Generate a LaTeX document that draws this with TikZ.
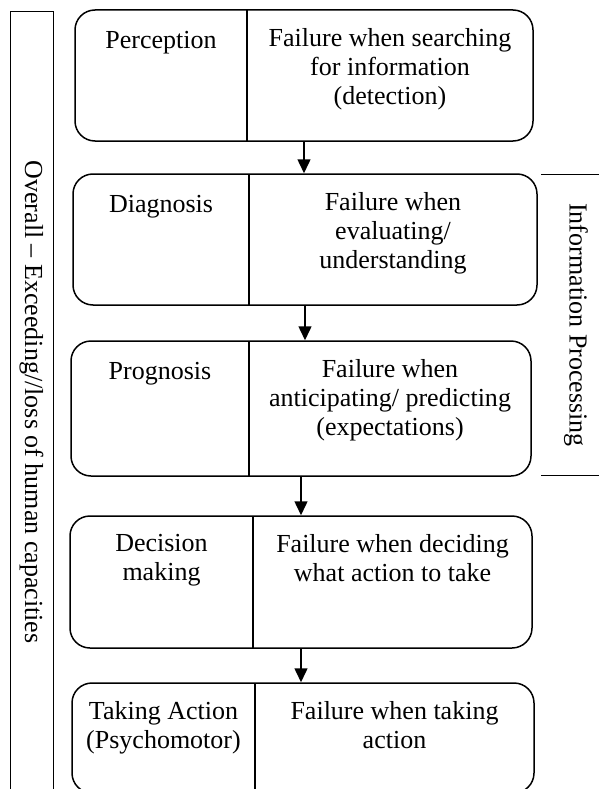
\documentclass[tikz,border=0pt]{standalone}
\usepackage{fontspec}
\setmainfont{Liberation Serif}
\usetikzlibrary{arrows.meta}

\begin{document}
\begin{tikzpicture}[x=1pt, y=-1pt,
  stage/.style={draw, line width=1.5pt, rounded corners=20pt, inner sep=0pt},
  divider/.style={line width=1.5pt},
  stagetext/.style={anchor=north, inner sep=0pt, align=center, font={\fontsize{26}{29}\selectfont}, execute at begin node=\strut},
  side/.style={inner sep=0pt, rotate=-90, font={\fontsize{26}{29}\selectfont}},
  frame/.style={line width=1pt},
  flow/.style={line width=1.5pt, -{Triangle[length=14pt, width=13pt]}}]
\clip (0,0) rectangle (599,789);

\node[stage, minimum width=458pt, minimum height=131pt] (perc) at (304,75.5) {};
\node[stage, minimum width=464pt, minimum height=131pt] (diag) at (305,239.5) {};
\node[stage, minimum width=460pt, minimum height=135pt] (prog) at (301,408.5) {};
\node[stage, minimum width=462pt, minimum height=132pt] (deci) at (301,582) {};
\node[stage, minimum width=462pt, minimum height=110pt] (act) at (303,738) {};

\draw[divider] (247,10) -- (247,141);
\draw[divider] (249,174) -- (249,305);
\draw[divider] (249,341) -- (249,476);
\draw[divider] (253,516) -- (253,648);
\draw[divider] (255,683) -- (255,793);

\node[stagetext] (percl) at (161,28) {Perception};
\node[stagetext] (percr) at (390,28) {Failure when searching\\for information\\(detection)};
\node[stagetext] (diagl) at (161,192) {Diagnosis};
\node[stagetext] (diagr) at (393,192) {Failure when\\evaluating/\\understanding};
\node[stagetext] (progl) at (160,359) {Prognosis};
\node[stagetext] (progr) at (390,359) {Failure when\\anticipating/ predicting\\(expectations)};
\node[stagetext] (decil) at (161.5,534) {Decision\\making};
\node[stagetext] (decir) at (392.5,534) {Failure when deciding\\what action to take};
\node[stagetext] (actl) at (163.5,701) {Taking Action\\(Psychomotor)};
\node[stagetext] (actr) at (394.5,701) {Failure when taking\\action};

\draw[flow] (perc.south) -- (perc.south |- diag.north);
\draw[flow] (diag.south) -- (diag.south |- prog.north);
\draw[flow] (prog.south) -- (prog.south |- deci.north);
\draw[flow] (deci.south) -- (deci.south |- act.north);

\draw[frame] (10,800) |- (53,12) -- (53,800);
\node[side] (overall) at (31.5,402) {Overall – Exceeding//loss of human capacities};

\draw[frame] (541,174) -- (599,174);
\draw[frame] (541,475) -- (599,475);
\node[side] (info) at (576,325) {Information Processing};
\end{tikzpicture}
\end{document}
